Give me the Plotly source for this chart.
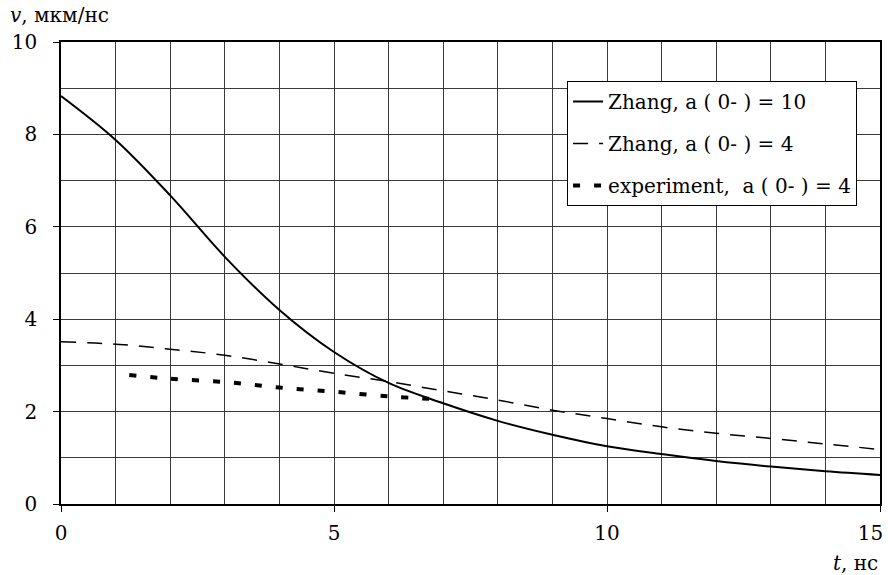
import plotly.graph_objects as go

# Data
t_main = [0, 1, 2, 3, 4, 5, 6, 7, 8, 9, 10, 11, 12, 13, 14, 15]
v_zhang10 = [8.83, 7.88, 6.68, 5.35, 4.2, 3.29, 2.62, 2.18, 1.80, 1.50, 1.25, 1.08, 0.93, 0.81, 0.71, 0.63]
v_zhang4 = [3.51, 3.46, 3.35, 3.22, 3.03, 2.83, 2.65, 2.45, 2.25, 2.03, 1.85, 1.67, 1.53, 1.42, 1.30, 1.18]
t_exp = [1.25, 2, 3, 4, 5, 6, 6.85]
v_exp = [2.79, 2.71, 2.64, 2.52, 2.43, 2.33, 2.27]

names = ["Zhang, a ( 0- ) = 10", "Zhang, a ( 0- ) = 4", "experiment,  a ( 0- ) = 4"]
x_ticks = [0, 5, 10, 15]
y_ticks = [0, 2, 4, 6, 8, 10]

FONT = "DejaVu Serif"
FS = 20
GRID = "#3a3a3a"

# last x label is padded so it stays inside the page (as in the original)
x_ticktext = [str(v) for v in x_ticks]
x_ticktext[-1] = x_ticktext[-1] + "&nbsp;&nbsp;&nbsp;"

fig = go.Figure()
fig.add_trace(go.Scatter(x=t_main, y=v_zhang10, mode="lines", name=names[0], legendgroup="g1",
                         line=dict(color="black", width=2, shape="spline")))
fig.add_trace(go.Scatter(x=t_main, y=v_zhang4, mode="lines", name=names[1], legendgroup="g2",
                         line=dict(color="black", width=1.5, dash="15px,11px", shape="spline")))
fig.add_trace(go.Scatter(x=t_exp, y=v_exp, mode="lines", name=names[2], legendgroup="g3",
                         line=dict(color="black", width=4, dash="7px,14px", shape="spline")))

fig.update_layout(
    width=888, height=575,
    margin=dict(l=61, r=8, t=42, b=71, autoexpand=False),
    paper_bgcolor="white", plot_bgcolor="white",
    font=dict(family=FONT, size=FS, color="black"),
    showlegend=True,
    legend=dict(x=0.972, xanchor="right", y=0.9156, yanchor="top",
                bgcolor="white", bordercolor="black", borderwidth=1,
                font=dict(family=FONT, size=FS, color="black"),
                tracegroupgap=13, itemwidth=30),
    xaxis=dict(range=[0, 15], tickvals=x_ticks, ticktext=x_ticktext,
               ticks="outside", ticklen=6, tickcolor="black", tickwidth=1,
               showgrid=True, gridcolor=GRID, gridwidth=1,
               minor=dict(dtick=1, showgrid=True, gridcolor=GRID, gridwidth=1),
               showline=True, linecolor="black", linewidth=1.5, mirror=True,
               zeroline=False, ticklabelstandoff=4, ticklabeloverflow="allow",
               automargin=False,
               tickfont=dict(family=FONT, size=FS)),
    yaxis=dict(range=[0, 10], tickvals=y_ticks, ticktext=[str(v) for v in y_ticks],
               ticks="outside", ticklen=6, tickcolor="black", tickwidth=1,
               showgrid=True, gridcolor=GRID, gridwidth=1,
               minor=dict(dtick=1, showgrid=True, gridcolor=GRID, gridwidth=1),
               showline=True, linecolor="black", linewidth=1.5, mirror=True,
               zeroline=False, ticklabelstandoff=12, automargin=False,
               tickfont=dict(family=FONT, size=FS)),
    annotations=[
        dict(text="<i>v</i>, мкм/нс", xref="paper", yref="paper", x=-0.065, y=1.058,
             xanchor="left", yanchor="middle", showarrow=False,
             font=dict(family=FONT, size=FS, color="black")),
        dict(text="<i>t</i>, нс", xref="paper", yref="paper", x=1.0, y=-0.128,
             xanchor="right", yanchor="middle", showarrow=False,
             font=dict(family=FONT, size=FS, color="black")),
    ],
)

fig.write_html("out.html", config={"displayModeBar": False},
               post_script="document.body.style.margin='0px';")
